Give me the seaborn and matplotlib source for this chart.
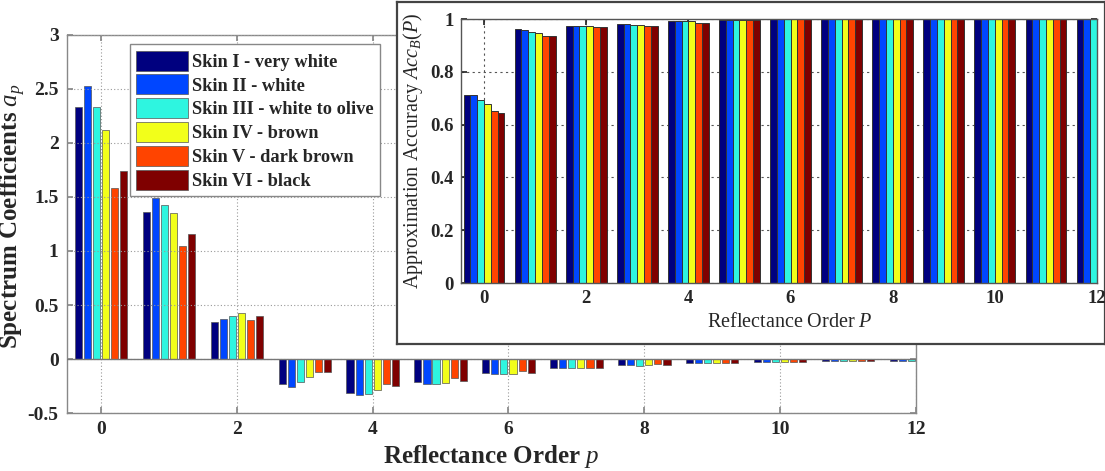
import numpy as np
import pandas as pd
import matplotlib
matplotlib.use("Agg")
import matplotlib.pyplot as plt
import seaborn as sns

# ---------------- data ----------------
orders = list(range(13))
skin_labels = ["Skin I - very white", "Skin II - white", "Skin III - white to olive",
               "Skin IV - brown", "Skin V - dark brown", "Skin VI - black"]
skin_colors = ["#00007F", "#0046FF", "#2EF5E0", "#F2FF1A", "#FF4400", "#7F0000"]

coef_I   = [2.33, 1.36, 0.34, -0.23, -0.31, -0.215, -0.13, -0.08, -0.055, -0.035, -0.03, -0.02, -0.02]
coef_II  = [2.53, 1.49, 0.37, -0.26, -0.33, -0.235, -0.14, -0.08, -0.055, -0.035, -0.03, -0.02, -0.02]
coef_III = [2.33, 1.43, 0.40, -0.21, -0.32, -0.235, -0.14, -0.08, -0.06, -0.035, -0.03, -0.02, -0.02]
coef_IV  = [2.12, 1.35, 0.43, -0.165, -0.29, -0.225, -0.14, -0.08, -0.058, -0.035, -0.03, -0.02, -0.02]
coef_V   = [1.58, 1.045, 0.36, -0.12, -0.23, -0.175, -0.11, -0.08, -0.045, -0.035, -0.03, -0.02, -0.02]
coef_VI  = [1.74, 1.16, 0.40, -0.12, -0.25, -0.20, -0.13, -0.085, -0.055, -0.035, -0.03, -0.02, -0.02]

acc_I   = [0.713, 0.962, 0.973, 0.982, 0.994, 0.998, 0.999, 1.0, 1.0, 1.0, 1.0, 1.0, 1.0]
acc_II  = [0.713, 0.958, 0.973, 0.982, 0.994, 0.998, 0.999, 1.0, 1.0, 1.0, 1.0, 1.0, 1.0]
acc_III = [0.692, 0.952, 0.973, 0.979, 0.991, 0.998, 0.999, 1.0, 1.0, 1.0, 1.0, 1.0, 1.0]
acc_IV  = [0.678, 0.948, 0.975, 0.979, 0.994, 0.998, 0.999, 1.0, 1.0, 1.0, 1.0, 1.0, 1.0]
acc_V   = [0.650, 0.937, 0.970, 0.975, 0.987, 0.997, 0.999, 1.0, 1.0, 1.0, 1.0, 1.0, 1.0]
acc_VI  = [0.646, 0.937, 0.970, 0.975, 0.987, 0.997, 0.999, 1.0, 1.0, 1.0, 1.0, 1.0, 1.0]

main_xticks = [0, 2, 4, 6, 8, 10, 12]
main_yticks = [-0.5, 0, 0.5, 1, 1.5, 2, 2.5, 3]
main_yticklabels = ["-0.5", "0", "0.5", "1", "1.5", "2", "2.5", "3"]
inset_yticks = [0, 0.2, 0.4, 0.6, 0.8, 1.0]
inset_yticklabels = ["0", "0.2", "0.4", "0.6", "0.8", "1"]

coef_series = [coef_I, coef_II, coef_III, coef_IV, coef_V, coef_VI]
acc_series = [acc_I, acc_II, acc_III, acc_IV, acc_V, acc_VI]

def long_df(series):
    rows = []
    for lab, vals in zip(skin_labels, series):
        for o, v in zip(orders, vals):
            rows.append({"order": o, "value": v, "skin": lab})
    return pd.DataFrame(rows)

df_coef = long_df(coef_series)
df_acc = long_df(acc_series)

# ---------------- style ----------------
sns.set_theme(style="white")
plt.rcParams["font.family"] = ["Liberation Serif", "DejaVu Serif"]
plt.rcParams["mathtext.fontset"] = "custom"
plt.rcParams["mathtext.rm"] = "Liberation Serif"
plt.rcParams["mathtext.it"] = "Liberation Serif:italic"
plt.rcParams["mathtext.bf"] = "Liberation Serif:bold"

fig = plt.figure(figsize=(11.05, 4.71), dpi=100)

# ---------------- main axes ----------------
ax = fig.add_axes([0.0606, 0.123, 0.7684, 0.803])
sns.barplot(data=df_coef, x="order", y="value", hue="skin", hue_order=skin_labels,
            palette=skin_colors, saturation=1, width=0.8, gap=0.22,
            edgecolor="#555555", linewidth=0.5,
            errorbar=None, ax=ax, zorder=2)
ax.axhline(0, color="#777777", lw=1.0, zorder=3)
ax.set_xlim(-0.5, 12)
ax.set_ylim(-0.5, 3)
ax.set_xticks(main_xticks)
ax.set_xticklabels([str(t) for t in main_xticks])
ax.set_yticks(main_yticks)
ax.set_yticklabels(main_yticklabels)
ax.grid(True, linestyle=(0, (1, 2)), color="#999999", linewidth=0.8)
ax.set_axisbelow(False)
for gl in ax.get_xgridlines() + ax.get_ygridlines():
    gl.set_zorder(4)
for sp in ax.spines.values():
    sp.set_color("#888888")
    sp.set_linewidth(1.0)
ax.tick_params(direction="in", length=4, color="#888888", labelsize=14,
               top=True, right=True, bottom=True, left=True, pad=6)
for lab in ax.get_xticklabels() + ax.get_yticklabels():
    lab.set_fontweight("bold")
ax.set_xlabel(r"Reflectance Order $p$", fontsize=18, fontweight="bold", labelpad=3)
ax.set_ylabel(r"Spectrum Coefficients $a_p$", fontsize=18, fontweight="bold")
ax.yaxis.set_label_coords(-0.046, 0.52)

handles, labels = ax.get_legend_handles_labels()
ax.get_legend().remove()
leg = fig.legend(handles, labels, loc="upper left", bbox_to_anchor=(0.1176, 0.906),
                 frameon=True, fancybox=False, edgecolor="#888888", framealpha=1,
                 prop={"family": "Liberation Serif", "weight": "bold", "size": 13.2},
                 handlelength=2.8, handleheight=1.3, labelspacing=0.2,
                 handletextpad=0.25, borderpad=0.35, borderaxespad=0)
leg.get_frame().set_linewidth(1.0)
for h in leg.legend_handles:
    h.set_edgecolor("#555555")

# ---------------- inset box ----------------
box = fig.add_axes([0.3593, 0.2696, 0.6407, 0.7261])
box.set_xticks([])
box.set_yticks([])
box.set_facecolor("white")
for sp in box.spines.values():
    sp.set_color("#444444")
    sp.set_linewidth(1.6)
box.set_zorder(5)

# ---------------- inset axes ----------------
ax2 = fig.add_axes([0.4172, 0.399, 0.5756, 0.5605])
ax2.set_zorder(6)
sns.barplot(data=df_acc, x="order", y="value", hue="skin", hue_order=skin_labels,
            palette=skin_colors, saturation=1, width=0.8, gap=0,
            edgecolor="#333333", linewidth=0.7,
            errorbar=None, ax=ax2, legend=False, zorder=2)
ax2.set_xlim(-0.45, 12)
ax2.set_ylim(0, 1)
ax2.set_xticks(main_xticks)
ax2.set_xticklabels([str(t) for t in main_xticks])
ax2.set_yticks(inset_yticks)
ax2.set_yticklabels(inset_yticklabels)
ax2.grid(True, linestyle=(0, (2, 3)), color="#555555", linewidth=0.8)
ax2.set_axisbelow(True)
for sp in ax2.spines.values():
    sp.set_color("#555555")
    sp.set_linewidth(1.0)
ax2.tick_params(direction="in", length=4, labelsize=13.5, top=True, right=True,
                bottom=True, left=True, pad=5)
for lab in ax2.get_xticklabels() + ax2.get_yticklabels():
    lab.set_fontweight("bold")
ax2.set_xlabel(r"Reflectance Order $P$", fontsize=14.5, labelpad=4)
ax2.set_ylabel(r"Approximation Accuracy $Acc_B(P)$", fontsize=14.5, labelpad=4)
ax2.xaxis.set_label_coords(0.517, -0.115)

fig.savefig("out.png", dpi=100)
